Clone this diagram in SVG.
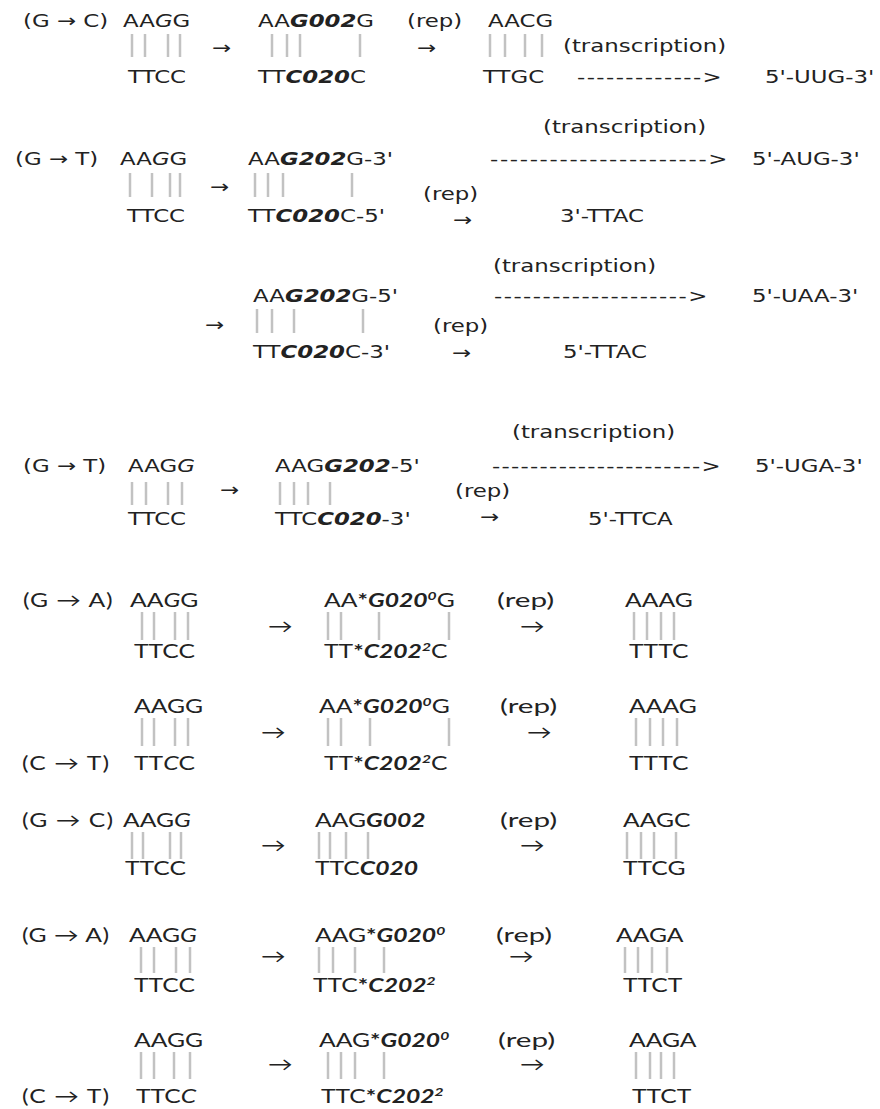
<svg xmlns="http://www.w3.org/2000/svg" width="880" height="1109" viewBox="0 0 880 1109">
<style>
text{fill:#222}
.t{font-family:"DejaVu Sans",Verdana,sans-serif;font-size:18px}
.b{font-family:Lato,"DejaVu Sans",sans-serif;font-size:19px}
.bi{font-weight:bold;font-style:italic}
.bo{font-weight:bold}
.i{font-style:italic}
.p line{stroke:#c2c2c2;stroke-width:2.5}
</style>
<rect width="880" height="1109" fill="#fff"/>
<g id="connectors">
<g class="p">
<line x1="132" y1="34" x2="132" y2="57"/><line x1="145" y1="34" x2="145" y2="57"/><line x1="168" y1="34" x2="168" y2="57"/><line x1="180" y1="34" x2="180" y2="57"/>
<line x1="272" y1="34" x2="272" y2="57"/><line x1="287" y1="34" x2="287" y2="57"/><line x1="300" y1="34" x2="300" y2="57"/><line x1="360" y1="34" x2="360" y2="57"/>
<line x1="490" y1="34" x2="490" y2="57"/><line x1="505" y1="34" x2="505" y2="57"/><line x1="525" y1="34" x2="525" y2="57"/><line x1="542" y1="34" x2="542" y2="57"/>
<line x1="130" y1="173" x2="130" y2="197"/><line x1="152" y1="173" x2="152" y2="197"/><line x1="170" y1="173" x2="170" y2="197"/><line x1="180" y1="173" x2="180" y2="197"/>
<line x1="255" y1="173" x2="255" y2="197"/><line x1="268" y1="173" x2="268" y2="197"/><line x1="283" y1="173" x2="283" y2="197"/><line x1="352" y1="173" x2="352" y2="197"/>
<line x1="257" y1="309" x2="257" y2="333"/><line x1="272" y1="309" x2="272" y2="333"/><line x1="294" y1="309" x2="294" y2="333"/><line x1="363" y1="309" x2="363" y2="333"/>
<line x1="132" y1="482" x2="132" y2="505"/><line x1="146" y1="482" x2="146" y2="505"/><line x1="168" y1="482" x2="168" y2="505"/><line x1="182" y1="482" x2="182" y2="505"/>
<line x1="280" y1="482" x2="280" y2="505"/><line x1="294" y1="482" x2="294" y2="505"/><line x1="308" y1="482" x2="308" y2="505"/><line x1="330" y1="482" x2="330" y2="505"/>
<line x1="142" y1="612" x2="142" y2="640"/><line x1="154" y1="612" x2="154" y2="640"/><line x1="175" y1="612" x2="175" y2="640"/><line x1="188" y1="612" x2="188" y2="640"/>
<line x1="328" y1="612" x2="328" y2="640"/><line x1="341" y1="612" x2="341" y2="640"/><line x1="379" y1="612" x2="379" y2="640"/><line x1="449" y1="612" x2="449" y2="640"/>
<line x1="634" y1="612" x2="634" y2="640"/><line x1="647" y1="612" x2="647" y2="640"/><line x1="661" y1="612" x2="661" y2="640"/><line x1="674" y1="612" x2="674" y2="640"/>
<line x1="142" y1="718" x2="142" y2="746"/><line x1="154" y1="718" x2="154" y2="746"/><line x1="175" y1="718" x2="175" y2="746"/><line x1="188" y1="718" x2="188" y2="746"/>
<line x1="328" y1="718" x2="328" y2="746"/><line x1="341" y1="718" x2="341" y2="746"/><line x1="370" y1="718" x2="370" y2="746"/><line x1="449" y1="718" x2="449" y2="746"/>
<line x1="636" y1="718" x2="636" y2="746"/><line x1="650" y1="718" x2="650" y2="746"/><line x1="663" y1="718" x2="663" y2="746"/><line x1="677" y1="718" x2="677" y2="746"/>
<line x1="132" y1="832" x2="132" y2="859"/><line x1="143" y1="832" x2="143" y2="859"/><line x1="170" y1="832" x2="170" y2="859"/><line x1="181" y1="832" x2="181" y2="859"/>
<line x1="319" y1="832" x2="319" y2="859"/><line x1="330" y1="832" x2="330" y2="859"/><line x1="346" y1="832" x2="346" y2="859"/><line x1="368" y1="832" x2="368" y2="859"/>
<line x1="627" y1="832" x2="627" y2="859"/><line x1="641" y1="832" x2="641" y2="859"/><line x1="654" y1="832" x2="654" y2="859"/><line x1="676" y1="832" x2="676" y2="859"/>
<line x1="141" y1="947" x2="141" y2="973"/><line x1="154" y1="947" x2="154" y2="973"/><line x1="176" y1="947" x2="176" y2="973"/><line x1="190" y1="947" x2="190" y2="973"/>
<line x1="319" y1="947" x2="319" y2="973"/><line x1="333" y1="947" x2="333" y2="973"/><line x1="355" y1="947" x2="355" y2="973"/><line x1="384" y1="947" x2="384" y2="973"/>
<line x1="625" y1="947" x2="625" y2="973"/><line x1="638" y1="947" x2="638" y2="973"/><line x1="652" y1="947" x2="652" y2="973"/><line x1="667" y1="947" x2="667" y2="973"/>
<line x1="141" y1="1052" x2="141" y2="1079"/><line x1="154" y1="1052" x2="154" y2="1079"/><line x1="174" y1="1052" x2="174" y2="1079"/><line x1="190" y1="1052" x2="190" y2="1079"/>
<line x1="328" y1="1052" x2="328" y2="1079"/><line x1="341" y1="1052" x2="341" y2="1079"/><line x1="355" y1="1052" x2="355" y2="1079"/><line x1="384" y1="1052" x2="384" y2="1079"/>
<line x1="636" y1="1052" x2="636" y2="1079"/><line x1="650" y1="1052" x2="650" y2="1079"/><line x1="661" y1="1052" x2="661" y2="1079"/><line x1="674" y1="1052" x2="674" y2="1079"/>
</g>
<g class="t">
<text transform="translate(212,54) scale(1.27,1)">→</text>
<text transform="translate(417,54) scale(1.27,1)">→</text>
<text transform="translate(577,83) scale(1.27,1)" textLength="114" lengthAdjust="spacing">-------------&gt;</text>
<text transform="translate(210,193) scale(1.27,1)">→</text>
<text transform="translate(453,226) scale(1.27,1)">→</text>
<text transform="translate(490,165) scale(1.27,1)" textLength="187" lengthAdjust="spacing">----------------------&gt;</text>
<text transform="translate(205,331) scale(1.27,1)">→</text>
<text transform="translate(452,359) scale(1.27,1)">→</text>
<text transform="translate(494,302) scale(1.27,1)" textLength="168" lengthAdjust="spacing">--------------------&gt;</text>
<text transform="translate(220,496) scale(1.27,1)">→</text>
<text transform="translate(480,523) scale(1.27,1)">→</text>
<text transform="translate(492,472) scale(1.27,1)" textLength="180" lengthAdjust="spacing">----------------------&gt;</text>
</g>
<g class="b">
<text transform="translate(268,633) scale(1.3,1)">→</text>
<text transform="translate(520,633) scale(1.3,1)">→</text>
<text transform="translate(261,739) scale(1.3,1)">→</text>
<text transform="translate(527,739) scale(1.3,1)">→</text>
<text transform="translate(261,852) scale(1.3,1)">→</text>
<text transform="translate(520,852) scale(1.3,1)">→</text>
<text transform="translate(261,963) scale(1.3,1)">→</text>
<text transform="translate(509,963) scale(1.3,1)">→</text>
<text transform="translate(268,1071) scale(1.3,1)">→</text>
<text transform="translate(520,1071) scale(1.3,1)">→</text>
</g>
</g>
<g id="s1" class="t">
<text transform="translate(23,27) scale(1.27,1)">(G → C)</text>
<text transform="translate(123,27) scale(1.27,1)">AA<tspan class="i">G</tspan>G</text>
<text transform="translate(128,83) scale(1.27,1)">TTCC</text>
<text transform="translate(258,27) scale(1.27,1)">AA<tspan class="bi">G002</tspan>G</text>
<text transform="translate(258,83) scale(1.27,1)">TT<tspan class="bi">C020</tspan>C</text>
<text transform="translate(407,27) scale(1.27,1)">(rep)</text>
<text transform="translate(488,27) scale(1.27,1)">AACG</text>
<text transform="translate(483,83) scale(1.27,1)">TTGC</text>
<text transform="translate(563,52) scale(1.27,1)">(transcription)</text>
<text transform="translate(765,83) scale(1.27,1)">5'-UUG-3'</text>
</g>
<g id="s2" class="t">
<text transform="translate(15,165) scale(1.27,1)">(G → T)</text>
<text transform="translate(120,165) scale(1.27,1)">AA<tspan class="i">G</tspan>G</text>
<text transform="translate(127,222) scale(1.27,1)">TTCC</text>
<text transform="translate(248,165) scale(1.27,1)">AA<tspan class="bi">G202</tspan>G-3'</text>
<text transform="translate(248,222) scale(1.27,1)">TT<tspan class="bi">C020</tspan>C-5'</text>
<text transform="translate(423,200) scale(1.27,1)">(rep)</text>
<text transform="translate(560,222) scale(1.27,1)">3'-TTAC</text>
<text transform="translate(543,133) scale(1.27,1)">(transcription)</text>
<text transform="translate(752,165) scale(1.27,1)">5'-AUG-3'</text>
</g>
<g id="s3" class="t">
<text transform="translate(253,302) scale(1.27,1)">AA<tspan class="bi">G202</tspan>G-5'</text>
<text transform="translate(253,358) scale(1.27,1)">TT<tspan class="bi">C020</tspan>C-3'</text>
<text transform="translate(433,332) scale(1.27,1)">(rep)</text>
<text transform="translate(563,358) scale(1.27,1)">5'-TTAC</text>
<text transform="translate(493,272) scale(1.27,1)">(transcription)</text>
<text transform="translate(752,302) scale(1.27,1)">5'-UAA-3'</text>
</g>
<g id="s4" class="t">
<text transform="translate(23,472) scale(1.27,1)">(G → T)</text>
<text transform="translate(128,472) scale(1.27,1)">AAG<tspan class="i">G</tspan></text>
<text transform="translate(128,525) scale(1.27,1)">TTCC</text>
<text transform="translate(275,472) scale(1.27,1)">AAG<tspan class="bi">G202</tspan>-5'</text>
<text transform="translate(275,525) scale(1.27,1)">TTC<tspan class="bi">C020</tspan>-3'</text>
<text transform="translate(512,438) scale(1.27,1)">(transcription)</text>
<text transform="translate(755,472) scale(1.27,1)">5'-UGA-3'</text>
<text transform="translate(455,497) scale(1.27,1)">(rep)</text>
<text transform="translate(588,525) scale(1.27,1)">5'-TTCA</text>
</g>
<g id="s5" class="b">
<text transform="translate(23,607) scale(1.3,1)" textLength="69" lengthAdjust="spacing">(G → A)</text>
<text transform="translate(130,607) scale(1.3,1)">AA<tspan class="i">G</tspan>G</text>
<text transform="translate(134,658) scale(1.3,1)">TTCC</text>
<text transform="translate(324,607) scale(1.3,1)">AA<tspan class="bo">*</tspan><tspan class="bi">G020</tspan><tspan class="bi" dy="-7" font-size="12">0</tspan><tspan dy="7">G</tspan></text>
<text transform="translate(324,658) scale(1.3,1)">TT<tspan class="bo">*</tspan><tspan class="bi">C202</tspan><tspan class="bi" dy="-7" font-size="12">2</tspan><tspan dy="7">C</tspan></text>
<text transform="translate(497,607) scale(1.3,1)" textLength="44" lengthAdjust="spacingAndGlyphs">(rep)</text>
<text transform="translate(625,607) scale(1.3,1)">AAAG</text>
<text transform="translate(629,658) scale(1.3,1)">TTTC</text>
</g>
<g id="s6" class="b">
<text transform="translate(134,713) scale(1.3,1)">AAGG</text>
<text transform="translate(319,713) scale(1.3,1)">AA<tspan class="bo">*</tspan><tspan class="bi">G020</tspan><tspan class="bi" dy="-7" font-size="12">0</tspan><tspan dy="7">G</tspan></text>
<text transform="translate(500,713) scale(1.3,1)" textLength="44" lengthAdjust="spacingAndGlyphs">(rep)</text>
<text transform="translate(629,713) scale(1.3,1)">AAAG</text>
<text transform="translate(22,770) scale(1.3,1)" textLength="67" lengthAdjust="spacing">(C → T)</text>
<text transform="translate(134,770) scale(1.3,1)">TT<tspan class="i">C</tspan>C</text>
<text transform="translate(324,770) scale(1.3,1)">TT<tspan class="bo">*</tspan><tspan class="bi">C202</tspan><tspan class="bi" dy="-7" font-size="12">2</tspan><tspan dy="7">C</tspan></text>
<text transform="translate(629,770) scale(1.3,1)">TTTC</text>
</g>
<g id="s7" class="b">
<text transform="translate(22,827) scale(1.3,1)" textLength="70" lengthAdjust="spacing">(G → C)</text>
<text transform="translate(123,827) scale(1.3,1)">AAG<tspan class="i">G</tspan></text>
<text transform="translate(125,875) scale(1.3,1)">TTCC</text>
<text transform="translate(315,827) scale(1.3,1)">AAG<tspan class="bi">G002</tspan></text>
<text transform="translate(315,875) scale(1.3,1)">TTC<tspan class="bi">C020</tspan></text>
<text transform="translate(500,827) scale(1.3,1)" textLength="44" lengthAdjust="spacingAndGlyphs">(rep)</text>
<text transform="translate(623,827) scale(1.3,1)">AAGC</text>
<text transform="translate(623,875) scale(1.3,1)">TTCG</text>
</g>
<g id="s8" class="b">
<text transform="translate(22,942) scale(1.3,1)" textLength="67" lengthAdjust="spacing">(G → A)</text>
<text transform="translate(129,942) scale(1.3,1)">AAG<tspan class="i">G</tspan></text>
<text transform="translate(134,992) scale(1.3,1)">TTCC</text>
<text transform="translate(315,942) scale(1.3,1)">AAG<tspan class="bo">*</tspan><tspan class="bi">G020</tspan><tspan class="bi" dy="-7" font-size="12">0</tspan></text>
<text transform="translate(313,992) scale(1.3,1)">TTC<tspan class="bo">*</tspan><tspan class="bi">C202</tspan><tspan class="bi" dy="-7" font-size="12">2</tspan></text>
<text transform="translate(496,942) scale(1.3,1)" textLength="43" lengthAdjust="spacingAndGlyphs">(rep)</text>
<text transform="translate(616,942) scale(1.3,1)">AAGA</text>
<text transform="translate(623,992) scale(1.3,1)">TTCT</text>
</g>
<g id="s9" class="b">
<text transform="translate(134,1047) scale(1.3,1)">AAGG</text>
<text transform="translate(319,1047) scale(1.3,1)">AAG<tspan class="bo">*</tspan><tspan class="bi">G020</tspan><tspan class="bi" dy="-7" font-size="12">0</tspan></text>
<text transform="translate(498,1047) scale(1.3,1)" textLength="44" lengthAdjust="spacingAndGlyphs">(rep)</text>
<text transform="translate(629,1047) scale(1.3,1)">AAGA</text>
<text transform="translate(22,1103) scale(1.3,1)" textLength="67" lengthAdjust="spacing">(C → T)</text>
<text transform="translate(136,1103) scale(1.3,1)">TTC<tspan class="i">C</tspan></text>
<text transform="translate(321,1103) scale(1.3,1)">TTC<tspan class="bo">*</tspan><tspan class="bi">C202</tspan><tspan class="bi" dy="-7" font-size="12">2</tspan></text>
<text transform="translate(632,1103) scale(1.3,1)">TTCT</text>
</g>
</svg>
